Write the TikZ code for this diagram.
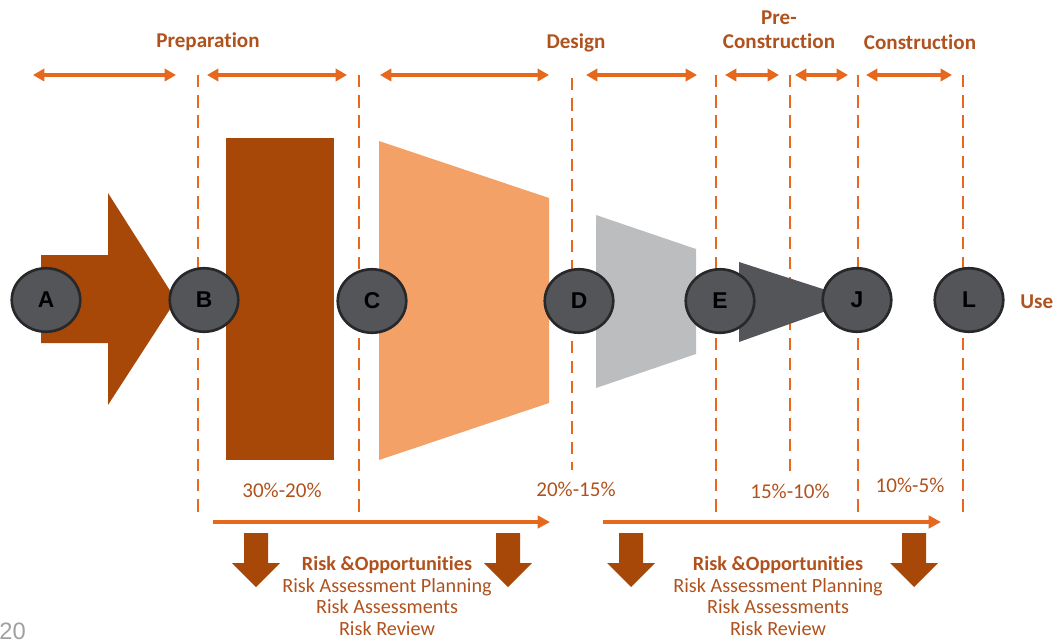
\documentclass[tikz,border=0pt]{standalone}
\usepackage{fontspec}
\setmainfont[Ligatures=NoCommon]{Carlito}
\newfontfamily\gatefont{Liberation Sans}
\usetikzlibrary{arrows.meta,shapes.geometric}

\definecolor{lineorange}{RGB}{229,104,28}
\definecolor{rustbrown}{RGB}{168,72,8}
\definecolor{peach}{RGB}{244,161,104}
\definecolor{lightgrey}{RGB}{188,189,191}
\definecolor{slategrey}{RGB}{84,85,89}
\definecolor{rimgrey}{RGB}{40,40,42}
\definecolor{labelbrown}{RGB}{176,82,30}
\definecolor{pagegrey}{RGB}{160,160,160}

\tikzset{
  phase/.style={line width=1.8pt, draw=lineorange,
    {Triangle[length=6.5pt,width=7pt]}-{Triangle[length=6.5pt,width=7pt]}},
  flow/.style={line width=1.8pt, draw=lineorange, -{Triangle[length=7pt,width=7pt]}},
  bound/.style={line width=1.4pt, draw=lineorange, dash pattern=on 7pt off 4.5pt},
  gate/.style={ellipse, fill=slategrey, draw=rimgrey, line width=1.5pt,
    minimum width=1.37cm, minimum height=1.27cm, inner sep=0pt,
    font=\gatefont\bfseries\fontsize{13}{15}\selectfont, text=black},
  stagetext/.style={text=labelbrown, font=\bfseries\fontsize{12}{13.6}\selectfont, align=center},
  sharetext/.style={text=labelbrown, font=\fontsize{12}{14}\selectfont},
  risktext/.style={text=labelbrown, font=\fontsize{11.5}{12.3}\selectfont, align=center},
  drop/.style={fill=rustbrown}
}

\begin{document}
\begin{tikzpicture}[x=0.02cm, y=-0.02cm]
\useasboundingbox (0,0) rectangle (1054,639);

\draw[bound] (198,75) -- (198,517);
\draw[bound] (359,75) -- (359,517);
\draw[bound] (572,78) -- (572,470);
\draw[bound] (716,75) -- (716,517);
\draw[bound] (790,75) -- (790,475);
\draw[bound] (858,75) -- (858,517);
\draw[bound] (963,75) -- (963,517);

\draw[phase] (33,75) -- (176,75);
\draw[phase] (207,75) -- (347,75);
\draw[phase] (380,75) -- (549,75);
\draw[phase] (586,75) -- (697,75);
\draw[phase] (725,75) -- (779,75);
\draw[phase] (795,75) -- (848,75);
\draw[phase] (866,75) -- (952,75);

\node[stagetext] (s1) at (208,42) {Preparation};
\node[stagetext] (s2) at (576,43) {Design};
\node[stagetext] (s3) at (779,30) {Pre-\\Construction};
\node[stagetext] (s4) at (920,42) {Construction};
\node[stagetext, anchor=west, inner sep=0pt] (s5) at (1020,302) {Use};

\fill[rustbrown] (41,255) -- (108,255) -- (108,193) -- (176,300) -- (108,405) -- (108,343) -- (41,343) -- cycle;
\fill[rustbrown] (226,138) rectangle (334,460);
\fill[peach] (379,141) -- (549,198) -- (549,403) -- (379,460) -- cycle;
\fill[lightgrey] (596,215) -- (696,249) -- (696,354) -- (596,388) -- cycle;
\fill[slategrey] (739,262) -- (857,300) -- (739,342) -- cycle;

\node[gate] (gA) at (46,300) {A};
\node[gate] (gB) at (204,300) {B};
\node[gate] (gC) at (372,301) {C};
\node[gate] (gD) at (579,301) {D};
\node[gate] (gE) at (720,301) {E};
\node[gate] (gJ) at (857,300) {J};
\node[gate] (gL) at (969,300) {L};

\node[sharetext] (p1) at (282,490) {30\%-20\%};
\node[sharetext] (p2) at (576,489) {20\%-15\%};
\node[sharetext] (p3) at (790,491) {15\%-10\%};
\node[sharetext] (p4) at (910,485) {10\%-5\%};

\draw[flow] (213,522) -- (550,522);
\draw[flow] (603,522) -- (941,522);

\foreach \cx in {256,508,631,914}
  \fill[drop] (\cx-12,533) -- (\cx+12,533) -- (\cx+12,563) -- (\cx+24,563)
    -- (\cx,587) -- (\cx-24,563) -- (\cx-12,563) -- cycle;

\node[risktext] (r1) at (387,596) {\textbf{Risk \&Opportunities}\\Risk Assessment Planning\\Risk Assessments\\Risk Review};
\node[risktext] (r2) at (778,596) {\textbf{Risk \&Opportunities}\\Risk Assessment Planning\\Risk Assessments\\Risk Review};

\node[text=pagegrey, anchor=base west, inner sep=0pt, font=\gatefont\fontsize{13.5}{15}\selectfont] (pg) at (-1,639) {20};
\end{tikzpicture}
\end{document}
